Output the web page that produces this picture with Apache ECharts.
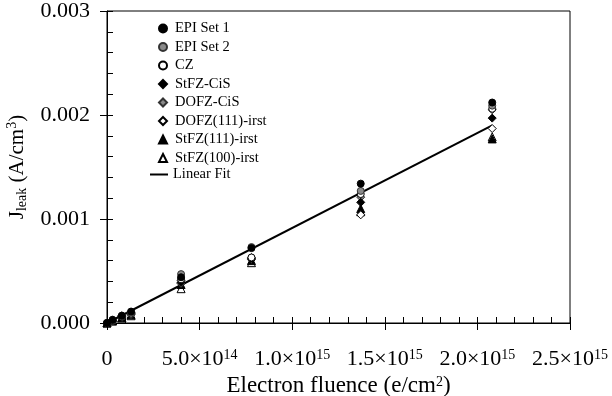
<!DOCTYPE html>
<html>
<head>
<meta charset="utf-8">
<script src="https://cdn.jsdelivr.net/npm/echarts@6/dist/echarts.min.js"></script>
<style>
  html, body { margin: 0; padding: 0; background: #fff; }
  #chart { width: 612px; height: 396px; }
</style>
</head>
<body>
<div id="chart"></div>
<script>
// Electron fluence (e/cm^2) at which each sample was measured
const fluence = [0, 3e13, 8e13, 1.3e14, 4.0e14, 7.8e14, 1.37e15, 2.08e15];

// Leakage current density J_leak (A/cm^3) per material
const epiSet1   = [0, 0.00003, 0.00007, 0.00011, 0.00044, 0.00072, 0.00134, 0.00212];
const epiSet2   = [0, 0.00003, 0.00007, 0.00010, 0.00047, 0.00073, 0.00127, 0.00209];
const cz        = [0, 0.00002, 0.00006, 0.00009, 0.00042, 0.00063, 0.00124, 0.00206];
const stfzCis   = [0, 0.00002, 0.00006, 0.00009, 0.00039, 0.00062, 0.00116, 0.00197];
const dofzCis   = [0, 0.00003, 0.00007, 0.00010, 0.00041, 0.00063, 0.00121, 0.00205];
const dofz111   = [0, 0.00002, 0.00005, 0.00008, 0.00038, 0.00061, 0.00104, 0.00187];
const stfz111   = [0, 0.00002, 0.00005, 0.00008, 0.00037, 0.00060, 0.00110, 0.00177];
const stfz100   = [0, 0.00002, 0.00005, 0.00007, 0.00033, 0.00058, 0.00107, 0.00179];

// Linear fit endpoints
const fitX = [0, 2.08e15];
const fitY = [0, 0.0019];

// Axis ticks
const xTicks = [0, 5e14, 1e15, 1.5e15, 2e15, 2.5e15];
const yTicks = [0, 0.001, 0.002, 0.003];

const FONT = '"Liberation Serif", "Times New Roman", serif';

function pairs(xs, ys) { return xs.map((x, i) => [x, ys[i]]); }

function sci(v) {
  if (v === 0) return '{m|0}';
  const e = Math.floor(Math.log10(v) + 1e-9);
  const m = v / Math.pow(10, e);
  return '{m|' + m.toFixed(1) + '×10}{s|' + e + '}';
}

const seriesDefs = [
  { name: 'EPI Set 1',       data: epiSet1, symbol: 'circle',   fill: '#000000', border: '#000000' },
  { name: 'EPI Set 2',       data: epiSet2, symbol: 'circle',   fill: '#8a8a8a', border: '#333333' },
  { name: 'CZ',              data: cz,      symbol: 'circle',   fill: '#ffffff', border: '#000000' },
  { name: 'StFZ-CiS',        data: stfzCis, symbol: 'diamond',  fill: '#000000', border: '#000000' },
  { name: 'DOFZ-CiS',        data: dofzCis, symbol: 'diamond',  fill: '#8a8a8a', border: '#333333' },
  { name: 'DOFZ(111)-irst',  data: dofz111, symbol: 'diamond',  fill: '#ffffff', border: '#000000' },
  { name: 'StFZ(111)-irst',  data: stfz111, symbol: 'triangle', fill: '#000000', border: '#000000' },
  { name: 'StFZ(100)-irst',  data: stfz100, symbol: 'triangle', fill: '#ffffff', border: '#000000' }
];

const series = [{
  name: 'Linear Fit',
  type: 'line',
  data: pairs(fitX, fitY),
  symbol: 'none',
  showSymbol: false,
  lineStyle: { color: '#000', width: 2 },
  itemStyle: { color: '#000' },
  z: 1,
  silent: true
}].concat(seriesDefs.map((d, i) => ({
  name: d.name,
  type: 'scatter',
  data: pairs(fluence, d.data),
  symbol: d.symbol,
  symbolSize: d.symbol === 'circle' ? 7 : 8,
  itemStyle: { color: d.fill, borderColor: d.border, borderWidth: 1, opacity: 1 },
  z: 2 + (seriesDefs.length - i)
})));

const legendText = { fontFamily: FONT, fontSize: 14.5, color: '#000', lineHeight: 15 };

const chart = echarts.init(document.getElementById('chart'), null, { renderer: 'canvas' });

chart.setOption({
  animation: false,
  backgroundColor: '#fff',
  textStyle: { fontFamily: FONT },
  grid: {
    left: 107, right: 42, top: 11, bottom: 73,
    outerBoundsMode: 'none',
    containLabel: false,
    show: true, borderColor: '#000', borderWidth: 1, backgroundColor: 'transparent'
  },
  legend: [{
    orient: 'vertical',
    left: 158, top: 21, padding: 0,
    itemWidth: 8, itemHeight: 8, itemGap: 3.5,
    data: seriesDefs.map(d => d.name),
    textStyle: Object.assign({ padding: [0, 0, 0, 3] }, legendText),
    selectedMode: false
  }, {
    orient: 'vertical',
    left: 150, top: 167, padding: 0,
    itemWidth: 18, itemHeight: 2,
    data: [{ name: 'Linear Fit', icon: 'rect' }],
    textStyle: legendText,
    selectedMode: false
  }],
  xAxis: [{
    type: 'value',
    position: 'bottom',
    min: xTicks[0], max: xTicks[xTicks.length - 1], interval: xTicks[1] - xTicks[0],
    axisLine: { show: true, lineStyle: { color: '#000', width: 1 } },
    axisTick: { show: true, inside: false, length: 7, lineStyle: { color: '#000' } },
    splitLine: { show: false },
    axisLabel: {
      margin: 25,
      formatter: sci,
      rich: {
        m: { fontFamily: FONT, fontSize: 22, color: '#000', lineHeight: 22 },
        s: { fontFamily: FONT, fontSize: 14, color: '#000', lineHeight: 14, verticalAlign: 'top' }
      }
    },
    name: '{m|Electron fluence (e/cm}{s|2}{m|)}',
    nameLocation: 'middle',
    nameGap: 43,
    nameTextStyle: {
      rich: {
        m: { fontFamily: FONT, fontSize: 23, color: '#000', lineHeight: 23 },
        s: { fontFamily: FONT, fontSize: 14, color: '#000', lineHeight: 14, verticalAlign: 'top' }
      }
    }
  }, {
    // minor ticks drawn inward along the bottom edge
    type: 'value',
    position: 'bottom',
    min: xTicks[0], max: xTicks[xTicks.length - 1], interval: 1e14,
    axisLine: { show: false },
    axisTick: { show: true, inside: true, length: 6, lineStyle: { color: '#000' } },
    axisLabel: { show: false },
    splitLine: { show: false }
  }],
  yAxis: [{
    type: 'value',
    position: 'left',
    min: yTicks[0], max: yTicks[yTicks.length - 1], interval: yTicks[1] - yTicks[0],
    axisLine: { show: true, lineStyle: { color: '#000', width: 1 } },
    axisTick: { show: true, inside: false, length: 7, lineStyle: { color: '#000' } },
    splitLine: { show: false },
    axisLabel: {
      margin: 17,
      fontFamily: FONT, fontSize: 22, color: '#000',
      formatter: v => v.toFixed(3)
    },
    name: '{m|J}{b|leak}{m| (A/cm}{s|3}{m|)}',
    nameLocation: 'middle',
    nameRotate: 90,
    nameGap: 78,
    nameTextStyle: {
      rich: {
        m: { fontFamily: FONT, fontSize: 21, color: '#000', lineHeight: 24 },
        b: { fontFamily: FONT, fontSize: 14, color: '#000', lineHeight: 14, verticalAlign: 'bottom' },
        s: { fontFamily: FONT, fontSize: 14, color: '#000', lineHeight: 14, verticalAlign: 'top' }
      }
    }
  }, {
    // minor ticks drawn inward along the left edge
    type: 'value',
    position: 'left',
    min: yTicks[0], max: yTicks[yTicks.length - 1], interval: 0.0002,
    axisLine: { show: false },
    axisTick: { show: true, inside: true, length: 6, lineStyle: { color: '#000' } },
    axisLabel: { show: false },
    splitLine: { show: false }
  }],
  series: series
});
</script>
</body>
</html>
